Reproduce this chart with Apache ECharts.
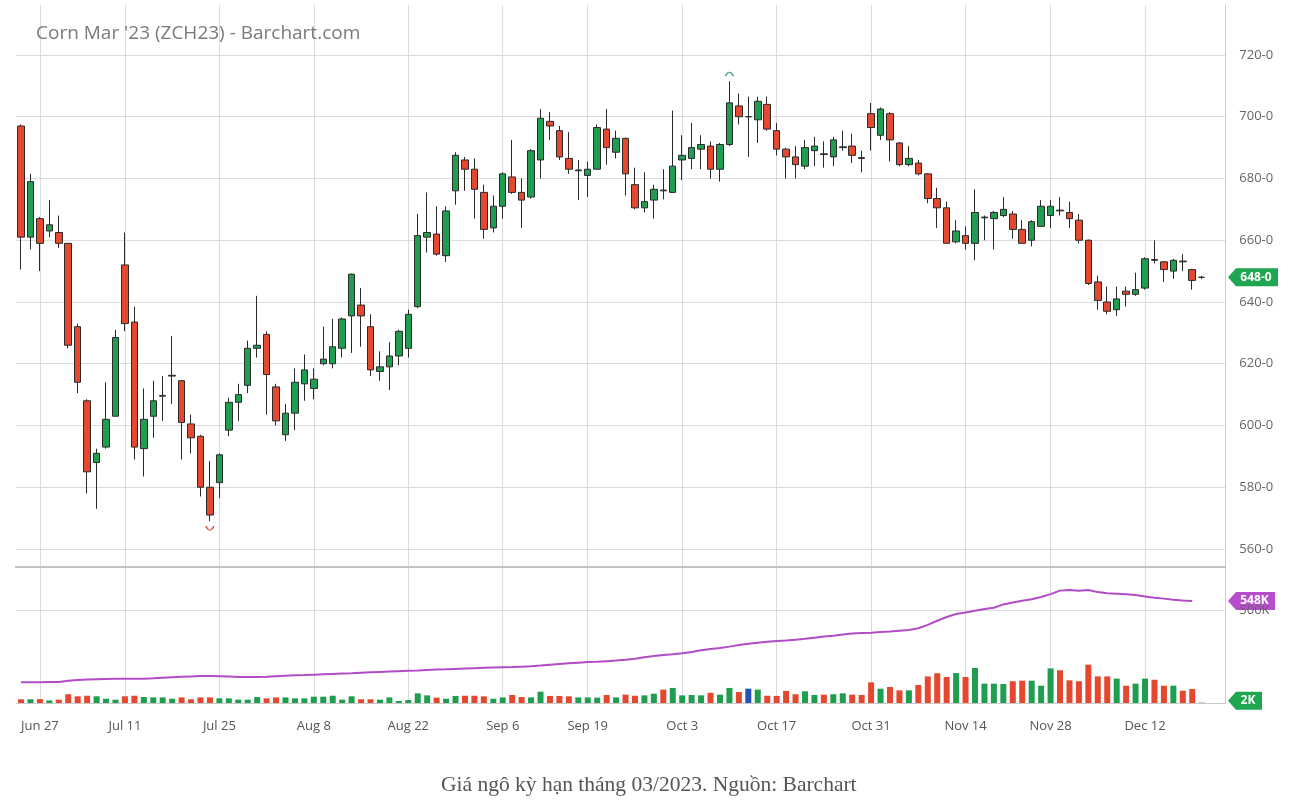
<!DOCTYPE html>
<html><head><meta charset="utf-8">
<script src="https://cdn.jsdelivr.net/npm/echarts@6/dist/echarts.min.js"></script>
<style>html,body{margin:0;padding:0;background:#fff}#c{width:1310px;height:806px}</style>
</head><body><div id="c"></div>
<script>
const categories = ['Jun 23','Jun 24','Jun 27','Jun 28','Jun 29','Jun 30','Jul 1','Jul 5','Jul 6','Jul 7','Jul 8','Jul 11','Jul 12','Jul 13','Jul 14','Jul 15','Jul 18','Jul 19','Jul 20','Jul 21','Jul 22','Jul 25','Jul 26','Jul 27','Jul 28','Jul 29','Aug 1','Aug 2','Aug 3','Aug 4','Aug 5','Aug 8','Aug 9','Aug 10','Aug 11','Aug 12','Aug 15','Aug 16','Aug 17','Aug 18','Aug 19','Aug 22','Aug 23','Aug 24','Aug 25','Aug 26','Aug 29','Aug 30','Aug 31','Sep 1','Sep 2','Sep 6','Sep 7','Sep 8','Sep 9','Sep 12','Sep 13','Sep 14','Sep 15','Sep 16','Sep 19','Sep 20','Sep 21','Sep 22','Sep 23','Sep 26','Sep 27','Sep 28','Sep 29','Sep 30','Oct 3','Oct 4','Oct 5','Oct 6','Oct 7','Oct 10','Oct 11','Oct 12','Oct 13','Oct 14','Oct 17','Oct 18','Oct 19','Oct 20','Oct 21','Oct 24','Oct 25','Oct 26','Oct 27','Oct 28','Oct 31','Nov 1','Nov 2','Nov 3','Nov 4','Nov 7','Nov 8','Nov 9','Nov 10','Nov 11','Nov 14','Nov 15','Nov 16','Nov 17','Nov 18','Nov 21','Nov 22','Nov 23','Nov 25','Nov 28','Nov 29','Nov 30','Dec 1','Dec 2','Dec 5','Dec 6','Dec 7','Dec 8','Dec 9','Dec 12','Dec 13','Dec 14','Dec 15','Dec 16','Dec 19','Dec 20','Dec 21','Dec 22'];
const tickLabels = ['Jun 27','Jul 11','Jul 25','Aug 8','Aug 22','Sep 6','Sep 19','Oct 3','Oct 17','Oct 31','Nov 14','Nov 28','Dec 12'];
const opens = [697,661,667,663,662.5,659,632,608,588,593,603,652,633.5,592.5,603,609.5,616,614.5,600.5,596.5,580,581.5,598.5,607.5,613,625,629.5,612.5,597,604,613.5,612,620,620,625,635.5,639,632,617.5,619,622.5,625,638.5,661,662,655,676,686,683,675.5,664,671,680.5,675.5,674,686,698.5,695.5,686.5,682.5,681,683,696,688.5,693,678,670.5,673,676.25,675.5,686,686.5,689.5,690.5,683,691,703.5,700,699,704,695.5,689.5,687,684,689,688,687,690,690.5,686.75,701,694,701,691.5,684.5,685,681.5,673.5,670.5,659.5,661.5,659,667.25,667,668,668.5,663.5,660,664.5,668,669.75,669,666.5,660,646.5,640,637.5,643.5,642.5,644.5,653.75,653,650,653.25,650.5,648];
const closes = [661,679,659,665,659,626,614,585,591,602,628.5,633,593,602,608,609.75,616.25,601,596,580,571,590.5,607.5,610,625,626,616.5,601.5,604,614,618,615,621.5,625.5,634.5,649,635.5,618,619,622.5,630.5,636,661.5,662.5,655.5,669.5,687.5,683,676.5,663.5,671,681.5,675.5,673,689,699.5,697,687,683,682.75,683,696.5,690,693,681.5,670.5,672.5,676.5,676,684,687.5,690,691,683,691,704.5,700,700,705,696,689.5,687,684.5,690,690.5,687.75,692.5,690.25,687.5,686.5,696.5,702.5,692.5,684.5,686.5,681.5,673.5,670.5,659,663,659,669,667.5,669,670,663.5,659,666,671,671,669.5,667,660,646,640.5,637,641,642.5,644,654,653.5,650.5,653.5,653,647,648];
const lows = [650.5,657,650,661,657.5,625,610.5,578,573,592.5,603,630.5,589,583.5,596,601.5,607,589,591,577,569,576.5,596.5,601.5,610.5,622,603.5,600,595,598.5,608,608.5,619.5,618.5,622,623.5,625.5,616,614.5,611.5,619.5,622,638,656,655,653,671.5,676,667,660.5,662.5,667,675,664,673.5,680,692.5,686,681.5,673,674,683,684.5,686.5,674.5,670,669,667,673.25,675.5,679.5,683,683,680,679,690.5,697.5,687,691.5,695.5,687.5,680,680,683,684,683.5,684,689,685,682,689,692.5,685.5,684,684,681,672,664,659,659,657,653.5,660,657,667.5,660.5,659,658,664.5,664,668,664,659,645.5,637.5,636,635.5,638.5,642,644,652.5,646.5,647.5,650,644,647.5];
const highs = [697.5,681.5,667.5,673,668,659,633,608.5,592.5,614,631,662.5,638.5,612,614.5,616,629,614.75,603.5,597,588.5,591,609,613.5,627.5,642,630.5,613.5,607,618.5,623,618.5,632,634.5,635,649.25,644.5,636,624,627,631,637.5,668.5,675.5,671,671,688.5,687,686.5,678,674.5,682,692.5,680,689.5,702.5,701.5,697,695,686,685.5,697.5,702.5,695.5,693.25,683.5,682,678,683,702,694,698,694,692,691.5,711.5,707.5,706.5,706.5,706.5,698,690,690.5,692.5,693.5,692,693.5,695.5,694.5,689,704.5,703,701.5,691.75,690.5,686,681.75,677,672.5,666.5,664.5,676.5,668,669.5,674,669.5,666.5,666.5,673,673,674,672.5,668.5,660.25,648.5,645,645,645,649.5,654.5,660,653.25,654,655.5,650.75,648.5];
const volumes = [20,20,21,14,18,47,36,39,36,23,18,36,39,32,30,30,23,30,20,30,30,25,25,18,18,32,25,30,30,25,25,34,34,39,18,36,20,20,18,30,11,16,52,41,29,23,38,39,39,36,23,30,43,32,30,61,38,38,36,30,30,29,43,30,45,39,41,50,72,81,41,43,41,55,45,81,59,77,72,39,38,65,47,63,43,45,47,52,45,43,111,77,86,68,68,97,143,160,140,161,140,188,104,104,102,117,120,120,93,186,176,122,117,206,143,143,131,93,104,131,125,93,93,66,75,2];
const openInterest = [111,111,112,113,113,120,124,126,128,129,130,130,130,131,133,136,139,141,143,145,145,144,142,140,140,140,141,144,147,149,150,152,154,156,158,160,163,165,167,169,171,173,175,178,180,181,183,185,187,189,191,192,193,195,197,201,206,210,214,217,220,222,225,228,232,238,246,253,258,262,267,274,283,290,296,303,312,318,324,329,333,336,340,345,351,357,362,368,373,376,378,381,384,388,392,402,420,442,462,478,486,496,505,512,530,540,550,558,570,585,604,608,603,607,596,590,587,584,580,573,566,561,555,551,548];
const highlightIndex = 77;

const GREEN = '#1f9e50', RED = '#e5482e', BLUE = '#2552b3', PURPLE = '#b14cc6', EDGE = '#2a2a2a', GRID = '#dcdcdc';
const showTick = (i, v) => tickLabels.indexOf(v) >= 0;

const candleData = opens.map((o, i) => [o, closes[i], lows[i], highs[i]]);
const volumeData = volumes.map((v, i) => ({
  value: v,
  itemStyle: { color: i === highlightIndex ? BLUE : (closes[i] >= opens[i] ? GREEN : RED) }
}));

const chart = echarts.init(document.getElementById('c'), null, { renderer: 'canvas' });
const L = 16.3, R = 84.7;
const option = {
  animation: false,
  backgroundColor: '#fff',
  title: [
    { text: "Corn Mar '23 (ZCH23) - Barchart.com", left: 31, top: 19,
      textStyle: { fontFamily: 'Open Sans', fontSize: 19, fontWeight: 'normal', color: '#7a7a7a' } },
    { text: 'Giá ngô kỳ hạn tháng 03/2023. Nguồn: Barchart', left: 436, top: 769,
      textStyle: { fontFamily: 'Liberation Serif', fontSize: 21.5, fontWeight: 'normal', color: '#555' } }
  ],
  grid: [
    { left: L, right: R, top: 5, height: 605.75 },
    { left: L, right: R, top: 567, height: 136 }
  ],
  xAxis: [
    { type: 'category', gridIndex: 0, data: categories, boundaryGap: true,
      axisLine: { show: false }, axisTick: { show: false }, axisLabel: { show: false },
      splitLine: { show: true, interval: showTick, alignWithLabel: true, lineStyle: { color: GRID } } },
    { type: 'category', gridIndex: 1, data: categories, boundaryGap: true, offset: 4,
      axisLine: { show: true, lineStyle: { color: '#c8c8c8' } }, axisTick: { show: false },
      axisLabel: { interval: showTick, color: '#555', fontSize: 13, fontFamily: 'Open Sans', margin: 13 },
      splitLine: { show: true, interval: showTick, alignWithLabel: true, lineStyle: { color: GRID } } }
  ],
  yAxis: [
    { type: 'value', gridIndex: 0, position: 'right', min: 540, max: 736.19, interval: 20,
      axisLine: { show: true, lineStyle: { color: '#cfcfcf' } }, axisTick: { show: false },
      axisLabel: { color: '#666', fontSize: 13, fontFamily: 'Open Sans', margin: 14,
        formatter: v => (v < 560 || v > 720) ? '' : v + '-0' },
      splitLine: { show: true, showMinLine: false, showMaxLine: false, lineStyle: { color: GRID } } },
    { type: 'value', gridIndex: 1, position: 'right', min: 0, max: 731, interval: 500,
      axisLine: { show: true, lineStyle: { color: '#cfcfcf' } }, axisTick: { show: false },
      axisLabel: { color: '#666', fontSize: 13, fontFamily: 'Open Sans', margin: 14,
        formatter: v => v === 500 ? '500K' : '' },
      splitLine: { show: true, showMinLine: false, showMaxLine: false, lineStyle: { color: GRID } } }
  ],
  series: [
    { type: 'candlestick', xAxisIndex: 0, yAxisIndex: 0, data: candleData, barWidth: 7,
      itemStyle: { color: GREEN, color0: RED, borderColor: EDGE, borderColor0: EDGE, borderColorDoji: EDGE, borderWidth: 1 },
      markPoint: {
        symbolSize: [8, 4], label: { show: false },
        data: [
          { type: 'max', valueDim: 'highest', symbol: 'path://M0,10 Q10,-6 20,10', symbolOffset: [0, -7],
            itemStyle: { color: 'rgba(0,0,0,0)', borderColor: '#4e9f86', borderWidth: 1.2 } },
          { type: 'min', valueDim: 'lowest', symbol: 'path://M0,0 Q10,16 20,0', symbolOffset: [0, 7],
            itemStyle: { color: 'rgba(0,0,0,0)', borderColor: '#e0533d', borderWidth: 1.2 } }
        ]
      } },
    { type: 'bar', xAxisIndex: 1, yAxisIndex: 1, data: volumeData, barWidth: 6 },
    { type: 'line', xAxisIndex: 1, yAxisIndex: 1, data: openInterest, symbol: 'none',
      lineStyle: { color: PURPLE, width: 2 }, itemStyle: { color: PURPLE } }
  ],
  graphic: [
    { type: 'line', shape: { x1: 15, y1: 567, x2: 1226, y2: 567 }, style: { stroke: '#c4c4c4', lineWidth: 2 }, z: 50 }
  ]
};
chart.setOption(option);

function tag(y, text, color, w) {
  const x0 = 1228, x1 = 1236;
  return {
    type: 'group', z: 100, children: [
      { type: 'polygon', shape: { points: [[x0, y], [x1, y - 9], [x1 + w, y - 9], [x1 + w, y + 9], [x1, y + 9]] },
        style: { fill: color } },
      { type: 'text', x: x1 + w / 2 - 1, y: y, style: { text: text, fill: '#fff', font: 'bold 12px "Open Sans"', align: 'center', verticalAlign: 'middle' } }
    ]
  };
}
const last = closes.length - 1;
const yPrice = chart.convertToPixel({ yAxisIndex: 0 }, closes[last]);
const yOI = chart.convertToPixel({ yAxisIndex: 1 }, openInterest[openInterest.length - 1]);
const yVol = chart.convertToPixel({ yAxisIndex: 1 }, volumes[last]);
chart.setOption({
  graphic: option.graphic.concat([
    tag(yPrice, closes[last] + '-0', '#1ea650', 42),
    tag(yOI, openInterest[openInterest.length - 1] + 'K', '#b74dcc', 39),
    tag(yVol - 2, volumes[last] + 'K', '#1ea650', 26)
  ])
});
</script>
</body></html>
